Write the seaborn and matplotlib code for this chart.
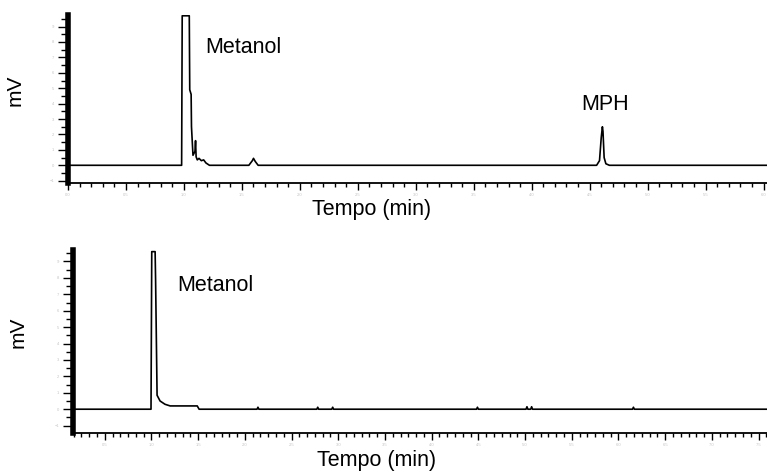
import matplotlib
matplotlib.use("Agg")
import matplotlib.pyplot as plt
from matplotlib.ticker import MultipleLocator, AutoMinorLocator
import pandas as pd
import seaborn as sns

# Chromatogram 1 (sample with MPH) - time in min, signal in mV (arbitrary units)
top_time = [0.00, 0.980, 0.985, 1.046, 1.050, 1.062, 1.065, 1.078, 1.095, 1.100,
            1.105, 1.115, 1.130, 1.150, 1.170, 1.190, 1.220, 1.560, 1.590, 1.600,
            1.615, 1.640, 4.560, 4.585, 4.600, 4.610, 4.615, 4.625, 4.640, 4.670, 6.03]
top_mv = [0.0, 0.0, 9.70, 9.70, 4.9, 4.6, 2.5, 0.65, 0.9, 1.6,
          0.55, 0.35, 0.45, 0.30, 0.35, 0.15, 0.0, 0.0, 0.3, 0.45,
          0.25, 0.0, 0.0, 0.3, 1.8, 2.5, 2.2, 0.5, 0.1, 0.0, 0.0]

# Chromatogram 2 (blank, methanol only)
bot_time = [0.16, 0.995, 1.003, 1.039, 1.044, 1.060, 1.092, 1.145, 1.200, 1.490,
            1.510, 2.130, 2.140, 2.150, 2.770, 2.780, 2.790, 2.930, 2.940, 2.950,
            4.480, 4.490, 4.500, 5.010, 5.020, 5.030, 5.060, 5.070, 5.080, 6.150,
            6.160, 6.170, 7.59]
bot_mv = [0.0, 0.0, 9.60, 9.60, 7.9, 0.85, 0.5, 0.3, 0.2, 0.2,
          0.0, 0.0, 0.12, 0.0, 0.0, 0.12, 0.0, 0.0, 0.12, 0.0,
          0.0, 0.12, 0.0, 0.0, 0.15, 0.0, 0.0, 0.15, 0.0, 0.0,
          0.12, 0.0, 0.0]

df_top = pd.DataFrame({"t": top_time, "mv": top_mv})
df_bot = pd.DataFrame({"t": bot_time, "mv": bot_mv})

sns.set_style("ticks")
plt.rcParams["font.family"] = ["Liberation Sans", "DejaVu Sans"]
plt.rcParams["text.color"] = "black"
plt.rcParams["axes.labelcolor"] = "black"
plt.rcParams["axes.edgecolor"] = "black"
plt.rcParams["xtick.color"] = "black"
plt.rcParams["ytick.color"] = "black"

fig = plt.figure(figsize=(7.67, 4.75), dpi=100)
ax1 = fig.add_axes([0.0887, 0.6147, 0.9113, 0.3537])
ax2 = fig.add_axes([0.0952, 0.0884, 0.9048, 0.3853])

sns.lineplot(data=df_top, x="t", y="mv", ax=ax1, color="black", linewidth=1.2,
             estimator=None, sort=False)
sns.lineplot(data=df_bot, x="t", y="mv", ax=ax2, color="black", linewidth=1.2,
             estimator=None, sort=False)

ax1.set_xlim(0, 6.03)
ax1.set_ylim(-1.15, 9.75)
ax2.set_xlim(0.16, 7.59)
ax2.set_ylim(-1.45, 9.7)

for ax in (ax1, ax2):
    sns.despine(ax=ax, top=True, right=True)
    ax.spines["left"].set_linewidth(4)
    ax.spines["bottom"].set_linewidth(1.3)
    ax.xaxis.set_major_locator(MultipleLocator(0.5))
    ax.yaxis.set_major_locator(MultipleLocator(1))
    ax.yaxis.set_minor_locator(AutoMinorLocator(2))
    ax.tick_params(which="major", length=5, width=1, labelsize=3,
                   labelcolor="#c4c4c4", pad=2)
    ax.tick_params(which="minor", length=3, width=1)
    ax.tick_params(axis="y", which="major", length=7, pad=3)
    ax.tick_params(axis="y", which="minor", length=5)
    ax.set_ylabel("mV", fontsize=15)
    ax.set_xlabel("Tempo (min)", fontsize=15.5)

ax1.xaxis.set_minor_locator(AutoMinorLocator(5))
ax2.xaxis.set_minor_locator(AutoMinorLocator(6))
ax1.yaxis.set_label_coords(-0.062, 0.55)
ax2.yaxis.set_label_coords(-0.065, 0.55)
ax1.xaxis.set_label_coords(0.434, -0.095)
ax2.xaxis.set_label_coords(0.438, -0.093)

ax1.text(1.18, 8.3, "Metanol", fontsize=15.5, va="top")
ax1.text(4.43, 4.6, "MPH", fontsize=15.5, va="top")
ax2.text(1.274, 8.17, "Metanol", fontsize=15.5, va="top")

fig.savefig("out.png", dpi=100)
